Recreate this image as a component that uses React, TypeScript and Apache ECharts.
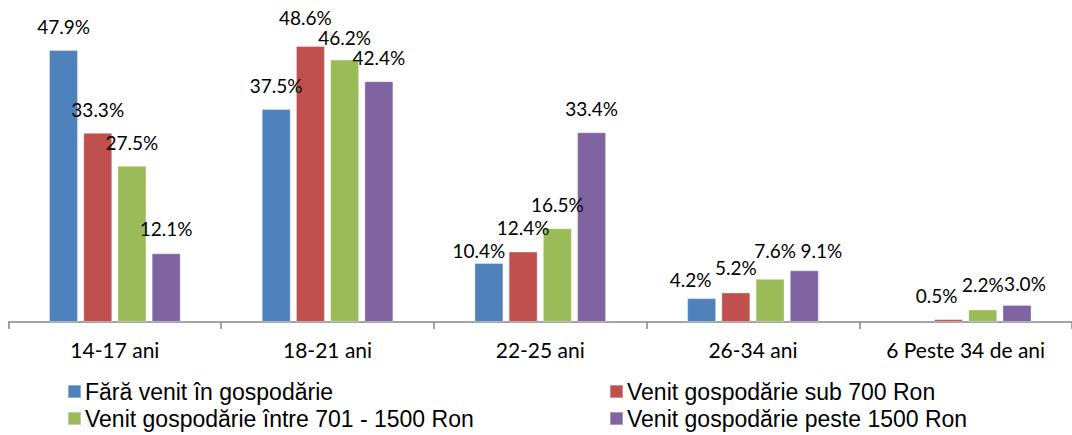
import React, { useEffect, useRef } from "react";
import * as echarts from "echarts";

const categories = ["14-17 ani", "18-21 ani", "22-25 ani", "26-34 ani", "6 Peste 34 de ani"];
const seriesNames = [
  "Fără venit în gospodărie",
  "Venit gospodărie sub 700 Ron",
  "Venit gospodărie între 701 - 1500 Ron",
  "Venit gospodărie peste 1500 Ron",
];
const faraVenit = [47.9, 37.5, 10.4, 4.2, null];
const sub700 = [33.3, 48.6, 12.4, 5.2, 0.5];
const intre701_1500 = [27.5, 46.2, 16.5, 7.6, 2.2];
const peste1500 = [12.1, 42.4, 33.4, 9.1, 3.0];
const colors = ["#4F81BD", "#C0504D", "#9BBB59", "#8064A2"];

// label nudges [dx, dy] per series / category (Excel auto-placement)
const labelNudge: number[][][] = [
  [[0, 0], [0, -1], [-10, 11], [-11, 4], [0, 0]],
  [[0, 0], [-5, -5], [0, -1], [0, -2], [-12, -1]],
  [[0, 0], [0, 1], [0, -1], [5, -5], [0, -2]],
  [[0, -2], [0, -1], [0, -1], [17, 3], [8, 2]],
];

export default function App() {
  const ref = useRef<HTMLDivElement>(null);
  useEffect(() => {
    if (!ref.current) return;
    const chart = echarts.init(ref.current, undefined, { renderer: "svg" });
    const all = [faraVenit, sub700, intre701_1500, peste1500];
    const series = all.map((vals, si) => ({
      name: seriesNames[si],
      type: "bar",
      barWidth: 29,
      barGap: "18%",
      itemStyle: { color: colors[si], borderColor: "rgba(255,255,255,0.35)", borderWidth: 1 },
      label: {
        show: true,
        position: "top",
        distance: 13,
        fontFamily: "Lato",
        fontSize: 19,
        lineHeight: 20,
        color: "#000",
        formatter: (p: any) => (p.value == null ? "" : `${Number(p.value).toFixed(1)}%`),
      },
      data: vals.map((v, ci) =>
        v == null
          ? null
          : { value: v, label: { offset: labelNudge[si][ci] } }
      ),
    }));
    const legendCommon = {
      orient: "vertical",
      icon: "rect",
      itemWidth: 13,
      itemHeight: 13,
      itemGap: 4,
      height: 60,
      textStyle: { fontFamily: "Liberation Sans", fontSize: 23, color: "#000", padding: [0, 0, 0, -1] },
    };
    chart.setOption({
      animation: false,
      color: colors,
      grid: { left: 8.5, width: 1075, top: 38, height: 284 },
      legend: [
        { ...legendCommon, left: 62, top: 375, data: [seriesNames[0], seriesNames[2]] },
        { ...legendCommon, left: 604, top: 375, data: [seriesNames[1], seriesNames[3]] },
      ],
      xAxis: {
        type: "category",
        data: categories,
        axisLine: { lineStyle: { color: "#868686", width: 1.5 } },
        axisTick: { show: true, length: 7, lineStyle: { color: "#868686", width: 1.5 } },
        axisLabel: { fontFamily: "Lato", fontSize: 21, color: "#000", margin: 17 },
      },
      yAxis: { type: "value", min: 0, max: 50, show: false, splitLine: { show: false } },
      series,
    });
    return () => chart.dispose();
  }, []);
  return <div ref={ref} style={{ width: 1072, height: 435, position: "absolute", left: 0, top: 0 }} />;
}
